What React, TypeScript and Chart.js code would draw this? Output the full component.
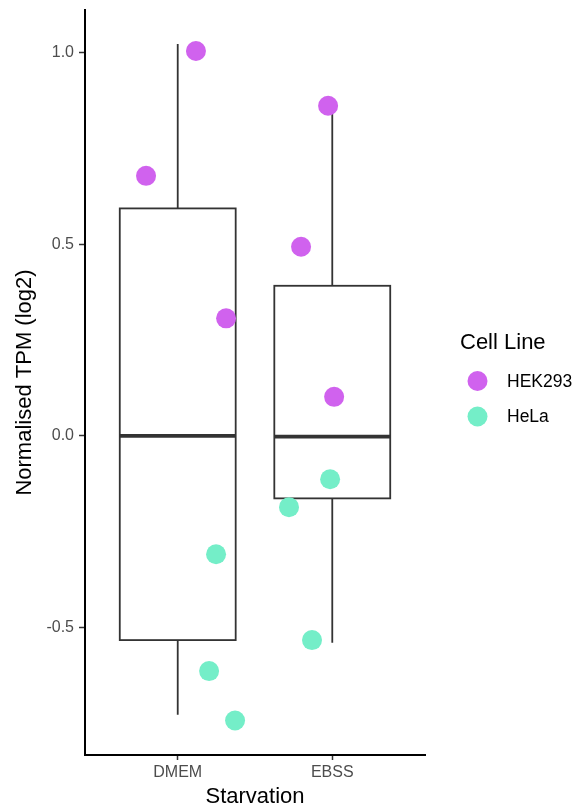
import React, { useEffect, useRef } from "react";
import { Chart, registerables } from "chart.js";

Chart.register(...registerables);

const categories = ["DMEM", "EBSS"];
const yTicks = [-0.5, 0.0, 0.5, 1.0];

const hekX = [1.118, 0.795, 1.313, 1.973, 1.798, 2.012];
const hekY = [1.005, 0.679, 0.307, 0.862, 0.494, 0.102];
const helaX = [1.248, 1.203, 1.371, 1.986, 1.72, 1.869];
const helaY = [-0.309, -0.614, -0.743, -0.113, -0.186, -0.533];

const boxQ1 = [-0.533, -0.163];
const boxMedian = [0.0, -0.002];
const boxQ3 = [0.594, 0.392];
const whiskerLow = [-0.728, -0.54];
const whiskerHigh = [1.023, 0.86];

const seriesNames = ["HEK293", "HeLa"];
const seriesColors = ["#D062EE", "#74EEC8"];

const FONT = "'Liberation Sans', Arial, sans-serif";

const boxPlugin = {
  id: "boxes",
  beforeDatasetsDraw(chart: any) {
    const ctx = chart.ctx;
    const xs = chart.scales.x;
    const ys = chart.scales.y;
    const half = 0.375;
    ctx.save();
    ctx.strokeStyle = "#333333";
    categories.forEach((_, i) => {
      const c = i + 1;
      const xc = xs.getPixelForValue(c);
      const xl = xs.getPixelForValue(c - half);
      const xr = xs.getPixelForValue(c + half);
      const yq1 = ys.getPixelForValue(boxQ1[i]);
      const yq3 = ys.getPixelForValue(boxQ3[i]);
      const ym = ys.getPixelForValue(boxMedian[i]);
      const ylo = ys.getPixelForValue(whiskerLow[i]);
      const yhi = ys.getPixelForValue(whiskerHigh[i]);
      ctx.lineWidth = 1.8;
      ctx.beginPath();
      ctx.moveTo(xc, yhi);
      ctx.lineTo(xc, yq3);
      ctx.moveTo(xc, yq1);
      ctx.lineTo(xc, ylo);
      ctx.stroke();
      ctx.fillStyle = "#ffffff";
      ctx.fillRect(xl, yq3, xr - xl, yq1 - yq3);
      ctx.strokeRect(xl, yq3, xr - xl, yq1 - yq3);
      ctx.lineWidth = 3.8;
      ctx.beginPath();
      ctx.moveTo(xl, ym);
      ctx.lineTo(xr, ym);
      ctx.stroke();
    });
    ctx.restore();
  },
};

const legendPlugin = {
  id: "ggLegend",
  afterDraw(chart: any) {
    const ctx = chart.ctx;
    ctx.save();
    ctx.fillStyle = "#000000";
    ctx.textBaseline = "middle";
    ctx.textAlign = "left";
    ctx.font = `22px ${FONT}`;
    ctx.fillText("Cell Line", 460, 343);
    ctx.font = `17.5px ${FONT}`;
    seriesNames.forEach((name, i) => {
      const y = 381 + i * 35.5;
      ctx.fillStyle = seriesColors[i];
      ctx.beginPath();
      ctx.arc(477.5, y, 10, 0, Math.PI * 2);
      ctx.fill();
      ctx.fillStyle = "#000000";
      ctx.fillText(name, 507, y + 1);
    });
    ctx.restore();
  },
};

export default function App() {
  const ref = useRef<HTMLCanvasElement | null>(null);
  useEffect(() => {
    if (!ref.current) return;
    const chart = new Chart(ref.current, {
      type: "scatter",
      data: {
        datasets: [
          {
            label: seriesNames[0],
            data: hekX.map((x, i) => ({ x, y: hekY[i] })),
            backgroundColor: seriesColors[0],
            borderWidth: 0,
            pointRadius: 10,
          },
          {
            label: seriesNames[1],
            data: helaX.map((x, i) => ({ x, y: helaY[i] })),
            backgroundColor: seriesColors[1],
            borderWidth: 0,
            pointRadius: 10,
          },
        ],
      },
      options: {
        responsive: false,
        animation: false,
        layout: { padding: { left: 4, top: 10, right: 157, bottom: 0 } },
        plugins: { legend: { display: false }, tooltip: { enabled: false } },
        scales: {
          x: {
            type: "linear",
            min: 0.4,
            max: 2.6,
            afterBuildTicks: (s: any) => {
              s.ticks = categories.map((_, i) => ({ value: i + 1 }));
            },
            afterFit: (s: any) => {
              s.height = 55;
              s.paddingLeft = 0;
              s.paddingRight = 0;
            },
            ticks: {
              callback: (v: any) => categories[Math.round(Number(v)) - 1] ?? "",
              color: "#4D4D4D",
              font: { family: FONT, size: 16 },
              padding: 3,
              maxRotation: 0,
            },
            grid: {
              display: true,
              drawOnChartArea: false,
              drawTicks: true,
              tickLength: 5,
              tickColor: "#333333",
              tickWidth: 1.5,
            },
            border: { display: true, color: "#000000", width: 2 },
            title: {
              display: true,
              text: "Starvation",
              color: "#000000",
              font: { family: FONT, size: 22 },
              padding: { top: 0, bottom: 0 },
            },
          },
          y: {
            type: "linear",
            min: -0.833,
            max: 1.112,
            afterBuildTicks: (s: any) => {
              s.ticks = yTicks.map((v) => ({ value: v }));
            },
            afterFit: (s: any) => {
              s.width = 81;
              s.paddingTop = 0;
              s.paddingBottom = 0;
            },
            ticks: {
              callback: (v: any) => Number(v).toFixed(1),
              color: "#4D4D4D",
              font: { family: FONT, size: 16 },
              padding: 5,
            },
            grid: {
              display: true,
              drawOnChartArea: false,
              drawTicks: true,
              tickLength: 6,
              tickColor: "#333333",
              tickWidth: 1.5,
            },
            border: { display: true, color: "#000000", width: 2 },
            title: {
              display: true,
              text: "Normalised TPM (log2)",
              color: "#000000",
              font: { family: FONT, size: 22 },
              padding: { top: 8, bottom: 0 },
            },
          },
        },
      },
      plugins: [boxPlugin, legendPlugin],
    });
    return () => chart.destroy();
  }, []);
  return (
    <div style={{ position: "absolute", left: 0, top: 0, width: 582, height: 810, background: "#fff" }}>
      <canvas ref={ref} width={582} height={810} />
    </div>
  );
}
